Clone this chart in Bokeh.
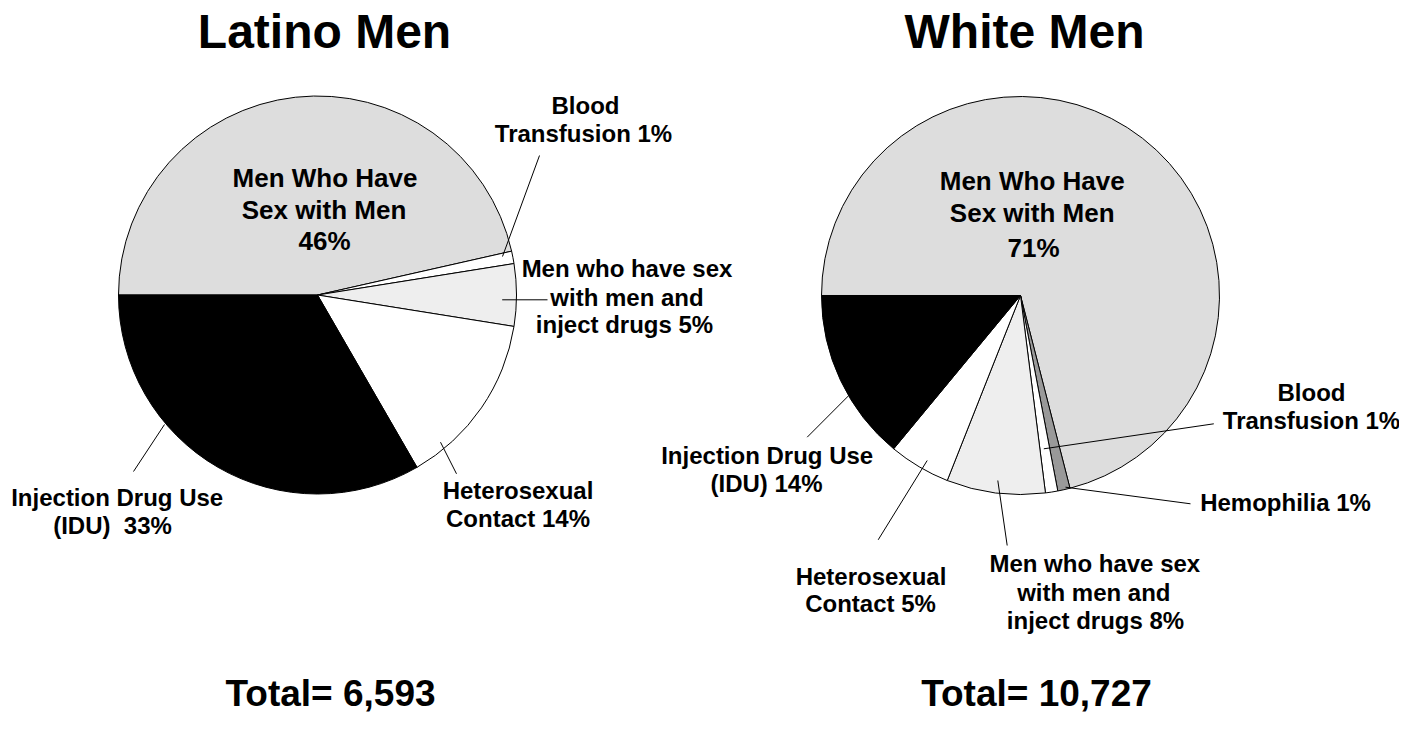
import math
from bokeh.plotting import figure
from bokeh.models import ColumnDataSource, Range1d
from bokeh.core.properties import value
from bokeh.embed import file_html
from bokeh.resources import INLINE

# ---------------- data ----------------
chart_titles = ["Latino Men", "White Men"]

latino_categories = ["MSM", "Blood Transfusion", "MSM & IDU", "Heterosexual Contact", "IDU"]
latino_values = [46, 1, 5, 14, 33]
latino_total = "6,593"

white_categories = ["MSM", "Hemophilia", "Blood Transfusion", "MSM & IDU", "Heterosexual Contact", "IDU"]
white_values = [71, 1, 1, 8, 5, 14]
white_total = "10,727"

category_colors = {
    "MSM": "#DDDDDD",
    "Blood Transfusion": "#FFFFFF",
    "Hemophilia": "#999999",
    "MSM & IDU": "#EEEEEE",
    "Heterosexual Contact": "#FFFFFF",
    "IDU": "#000000",
}

# ---------------- layout ----------------
W, H = 1399, 714
FONT = value("Liberation Sans")


def Y(ry):
    return H - ry


p = figure(width=W, height=H, output_backend="svg", toolbar_location=None,
           x_range=Range1d(0, W), y_range=Range1d(0, H),
           min_border=0, outline_line_color=None, background_fill_color="white",
           border_fill_color="white")
p.axis.visible = False
p.xgrid.visible = False
p.ygrid.visible = False


def draw_pie(cx, cy, r, cats, vals):
    total = float(sum(vals))
    starts, ends, cum = [], [], 0.0
    for v in vals:
        starts.append(math.pi - 2 * math.pi * cum / total)
        cum += v
        ends.append(math.pi - 2 * math.pi * cum / total)
    src = ColumnDataSource(dict(
        x=[cx] * len(vals), y=[Y(cy)] * len(vals),
        start=starts, end=ends,
        color=[category_colors[c] for c in cats]))
    p.wedge(x="x", y="y", radius=r, start_angle="start", end_angle="end",
            direction="clock", fill_color="color", line_color="black",
            line_width=1, source=src)


def draw_text(x, baseline, txt, size):
    # text is vertically centred on the anchor: place anchor above the baseline
    anchor = baseline - 0.35 * size
    p.text(x=[x], y=[Y(anchor)], text=[txt], text_font=FONT, text_font_style="bold",
           text_font_size=f"{size}px", text_align="center", text_baseline="middle",
           text_color="black")


def leader(x0, y0, x1, y1):
    p.segment(x0=[x0], y0=[Y(y0)], x1=[x1], y1=[Y(y1)], line_color="black", line_width=1)


R = 199
draw_pie(317, 294.5, R, latino_categories, latino_values)
draw_pie(1020, 295, R, white_categories, white_values)

lv = dict(zip(latino_categories, latino_values))
wv = dict(zip(white_categories, white_values))

# titles
draw_text(324, 48, chart_titles[0], 48)
draw_text(1024, 48, chart_titles[1], 48)

# totals
draw_text(330, 706, "Total= " + latino_total, 37)
draw_text(1036, 706, "Total= " + white_total, 37)

# ---- Latino labels ----
draw_text(324.5, 186.7, "Men Who Have", 26)
draw_text(323.5, 218.3, "Sex with Men", 26)
draw_text(324, 250, f"{lv['MSM']}%", 26)

draw_text(585, 113, "Blood", 24)
draw_text(583, 141.7, f"Transfusion {lv['Blood Transfusion']}%", 24)
leader(539, 155, 502, 256)

draw_text(626.5, 276.7, "Men who have sex", 24)
draw_text(626.5, 305, "with men and", 24)
draw_text(624, 332.5, f"inject drugs {lv['MSM & IDU']}%", 24)
leader(501.7, 299.3, 547, 299.3)

draw_text(517.5, 498.3, "Heterosexual", 24)
draw_text(517.5, 526.7, f"Contact {lv['Heterosexual Contact']}%", 24)
leader(440, 441.7, 456, 473.3)

draw_text(116.7, 505, "Injection Drug Use", 24)
draw_text(112, 533, f"(IDU)\u00a0 {lv['IDU']}%", 24)
leader(133, 471, 164, 424)

# ---- White labels ----
draw_text(1031.7, 190, "Men Who Have", 26)
draw_text(1031.7, 221.7, "Sex with Men", 26)
draw_text(1033, 256.7, f"{wv['MSM']}%", 26)

draw_text(1311, 400.7, "Blood", 24)
draw_text(1311, 428.3, f"Transfusion {wv['Blood Transfusion']}%", 24)
leader(1043.3, 448.3, 1213.3, 423.3)

draw_text(1285, 510, f"Hemophilia {wv['Hemophilia']}%", 24)
leader(1065, 486.7, 1190, 503.3)

draw_text(1094.3, 571.7, "Men who have sex", 24)
draw_text(1093.3, 600, "with men and", 24)
draw_text(1095, 628.3, f"inject drugs {wv['MSM & IDU']}%", 24)
leader(997.3, 480, 1006.7, 545)

draw_text(870.5, 584, "Heterosexual", 24)
draw_text(870, 611.7, f"Contact {wv['Heterosexual Contact']}%", 24)
leader(926.7, 460, 877.7, 539.3)

draw_text(766.7, 463.3, "Injection Drug Use", 24)
draw_text(766, 491.7, f"(IDU) {wv['IDU']}%", 24)
leader(848.3, 395, 806.7, 436.7)

open("out.html", "w").write(file_html(p, INLINE))
